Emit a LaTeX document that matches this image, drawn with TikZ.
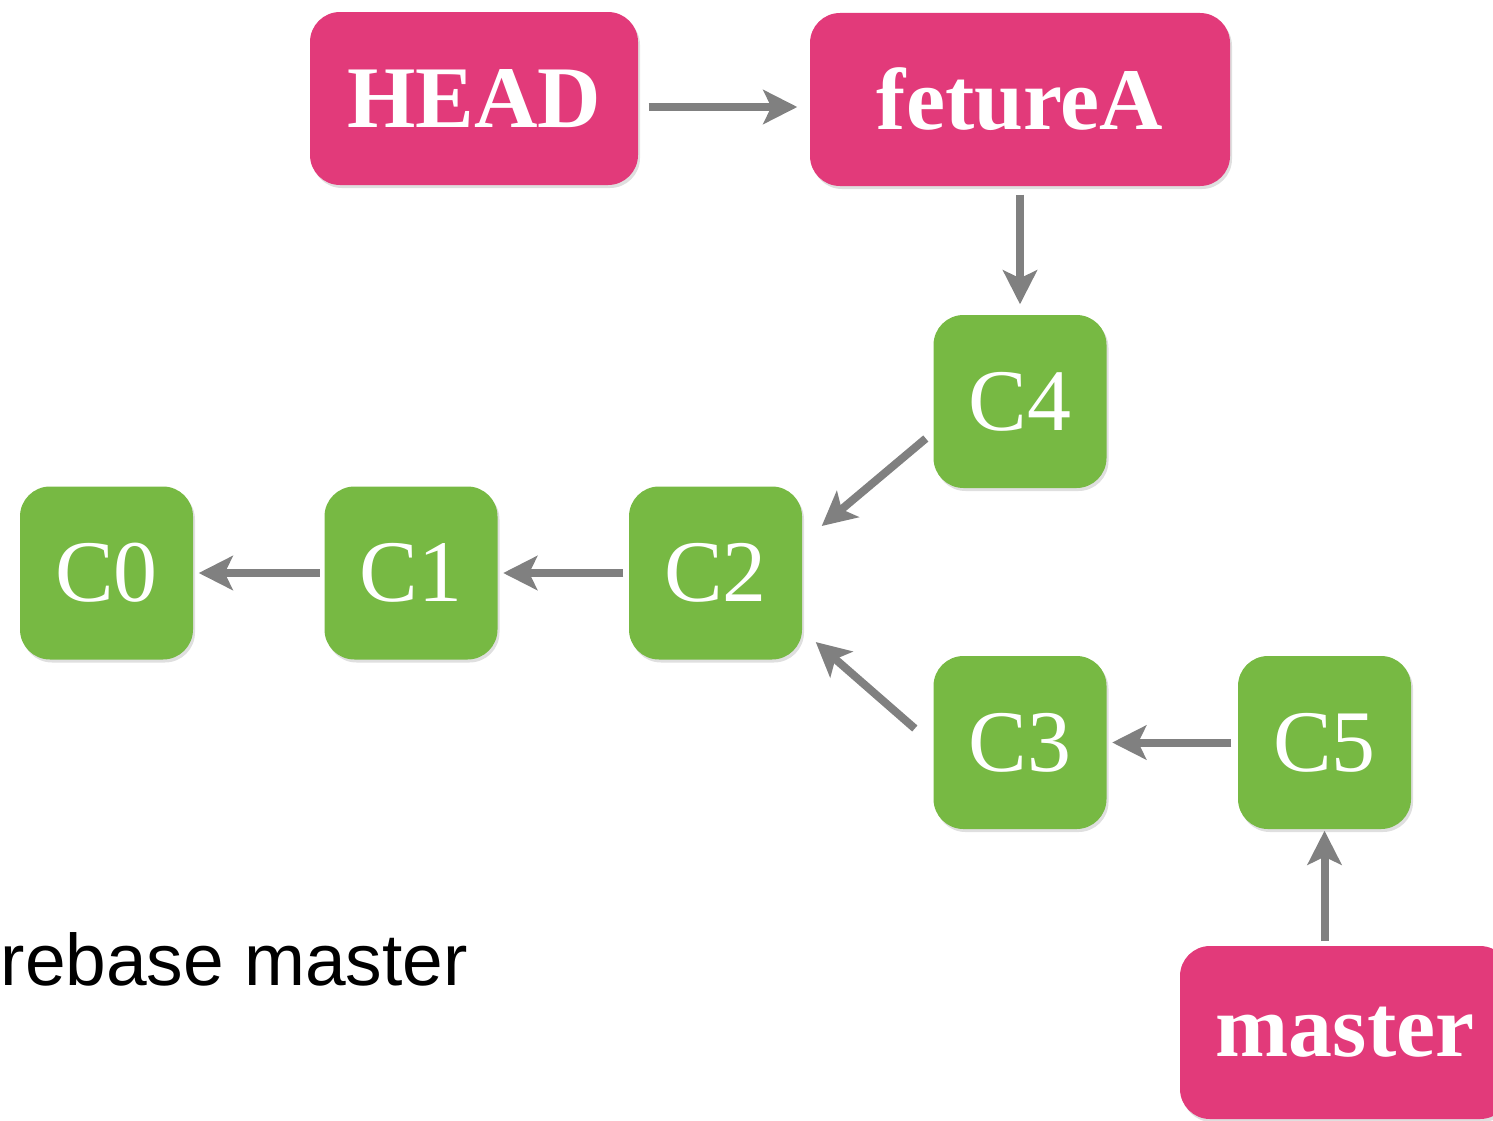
\documentclass[tikz,border=0pt]{standalone}
\usepackage{fontspec}
\setmainfont{Liberation Serif}
\setsansfont{Liberation Sans}
\usepackage{tikz}
\usetikzlibrary{arrows.meta,calc,shadows}

\definecolor{refpink}{RGB}{226,58,122}
\definecolor{commitgreen}{RGB}{119,185,67}
\definecolor{arrowgray}{RGB}{128,128,128}

\begin{document}
\begin{tikzpicture}[
ref/.style={rounded corners=0.3cm, fill=refpink, text=white, inner sep=0pt,
  minimum height=1.73cm, font=\fontsize{25}{30}\selectfont\bfseries,
  drop shadow={shadow xshift=0.02cm, shadow yshift=-0.03cm, opacity=0.25}},
commit/.style={rounded corners=0.3cm, fill=commitgreen, text=white, inner sep=0pt,
  minimum size=1.73cm, font=\fontsize{25}{30}\selectfont,
  drop shadow={shadow xshift=0.02cm, shadow yshift=-0.03cm, opacity=0.25}},
link/.style={draw=arrowgray, line width=0.08cm, -{Stealth[length=0.34cm, width=0.34cm, inset=0.08cm]}}]

\clip (0,0) rectangle (14.93,-11.20);

% branch labels
\node[ref, minimum width=3.28cm] (head) at (4.74,-0.985) {HEAD};
\node[ref, minimum width=4.20cm] (feature) at (10.20,-0.995) {fetureA};
\node[ref, minimum width=3.30cm] (master) at (13.45,-10.325) {master};

% commits
\node[commit] (c0) at (1.065,-5.73) {C0};
\node[commit] (c1) at (4.11,-5.73) {C1};
\node[commit] (c2) at (7.155,-5.73) {C2};
\node[commit] (c4) at (10.20,-4.015) {C4};
\node[commit] (c3) at (10.20,-7.425) {C3};
\node[commit] (c5) at (13.245,-7.425) {C5};

\draw[link, shorten <=0.1cm, shorten >=0.12cm] (head.east|-0,-1.07) -- (feature.west|-0,-1.07);
\draw[link, shorten <=0.08cm, shorten >=0.1cm] (feature.south) -- (c4.north);
\draw[link] ($(c4.west)+(-0.07,-0.37)$) -- ($(c2.east)+(0.19,0.47)$);
\draw[link] ($(c3.west)+(-0.18,0.14)$) -- ($(c2.east)+(0.13,-0.69)$);
\draw[link, shorten <=0.04cm, shorten >=0.05cm] (c1.west) -- (c0.west-|c0.east);
\draw[link, shorten <=0.05cm, shorten >=0.05cm] (c2.west) -- (c1.east);
\draw[link, shorten <=0.06cm, shorten >=0.05cm] (c5.west) -- (c3.east);
\draw[link, shorten <=0.04cm, shorten >=0.01cm] (master.north-|c5.south) -- (c5.south);

\node[anchor=base west, inner sep=0pt, font=\sffamily\fontsize{20.8}{25}\selectfont] (cmd) at (0.0,-9.85) {rebase master};
\end{tikzpicture}
\end{document}
